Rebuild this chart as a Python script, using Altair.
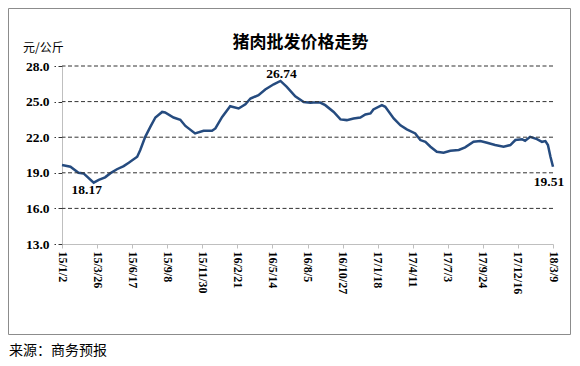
import altair as alt
import pandas as pd

title_text = "猪肉批发价格走势"
unit_text = "元/公斤"
source_text = "来源：商务预报"

dates = [
    "2015-01-02", "2015-01-22", "2015-02-10", "2015-02-22", "2015-03-18", "2015-03-30",
    "2015-04-14", "2015-04-26", "2015-05-12", "2015-05-28", "2015-06-09", "2015-06-29",
    "2015-07-06", "2015-07-18", "2015-07-30", "2015-08-11", "2015-08-27", "2015-09-03",
    "2015-09-23", "2015-10-09", "2015-10-21", "2015-11-13", "2015-12-03", "2015-12-23",
    "2015-12-31", "2016-01-16", "2016-02-04", "2016-02-24", "2016-03-11", "2016-03-23",
    "2016-04-11", "2016-04-27", "2016-05-17", "2016-06-02", "2016-06-17", "2016-07-07",
    "2016-07-27", "2016-08-12", "2016-08-19", "2016-09-04", "2016-09-16", "2016-10-06",
    "2016-10-22", "2016-11-06", "2016-11-22", "2016-12-08", "2016-12-20", "2017-01-01",
    "2017-01-08", "2017-01-28", "2017-02-05", "2017-02-25", "2017-03-13", "2017-03-28",
    "2017-04-17", "2017-04-29", "2017-05-11", "2017-05-23", "2017-06-07", "2017-06-23",
    "2017-07-09", "2017-07-29", "2017-08-13", "2017-09-02", "2017-09-18", "2017-10-04",
    "2017-10-23", "2017-11-12", "2017-11-28", "2017-12-10", "2017-12-26", "2018-01-02",
    "2018-01-14", "2018-01-30", "2018-02-11", "2018-02-19", "2018-02-25", "2018-03-03",
    "2018-03-09",
]
prices = [
    19.65, 19.51, 19.00, 18.95, 18.17, 18.40,
    18.62, 18.95, 19.30, 19.57, 19.85, 20.35,
    20.90, 22.03, 22.87, 23.66, 24.13, 24.08,
    23.66, 23.47, 22.95, 22.32, 22.54, 22.54,
    22.74, 23.71, 24.61, 24.42, 24.78, 25.26,
    25.54, 26.02, 26.46, 26.74, 26.24, 25.45,
    24.97, 24.90, 24.92, 24.92, 24.70, 24.13,
    23.50, 23.44, 23.58, 23.66, 23.92, 24.00,
    24.34, 24.70, 24.56, 23.58, 23.00, 22.66,
    22.32, 21.76, 21.60, 21.20, 20.77, 20.69,
    20.86, 20.92, 21.14, 21.61, 21.67, 21.53,
    21.34, 21.20, 21.34, 21.76, 21.82, 21.70,
    22.03, 21.84, 21.61, 21.67, 21.34, 20.35,
    19.51,
]
tick_dates = [
    "2015-01-02", "2015-03-26", "2015-06-17", "2015-09-08", "2015-11-30",
    "2016-02-21", "2016-05-14", "2016-08-05", "2016-10-27", "2017-01-18",
    "2017-04-11", "2017-07-03", "2017-09-24", "2017-12-16", "2018-03-09",
]
y_ticks = [13, 16, 19, 22, 25, 28]
grid_values = [16, 19, 22, 25, 28]
label_dates = ["2015-03-18", "2016-06-02", "2018-03-09"]
label_values = [18.17, 26.74, 19.51]


def dt(s):
    y, m, d = (int(p) for p in s.split("-"))
    return alt.DateTime(year=y, month=m, date=d)


df = pd.DataFrame({"date": pd.to_datetime(dates), "price": prices})
grid_df = pd.DataFrame({"v": grid_values})

serif = "Liberation Serif"
cjk = "Noto Sans CJK SC"
line_color = "#254B7F"

x_scale = alt.Scale(domain=[dt(tick_dates[0]), dt(tick_dates[-1])])
y_scale = alt.Scale(domain=[13, 28], nice=False, zero=False)

x_axis = alt.Axis(
    values=[dt(s) for s in tick_dates], format="%y/%-m/%-d", title=None,
    labelAngle=90, labelAlign="left", labelBaseline="middle",
    labelFont=serif, labelFontWeight="bold", labelFontSize=12, labelColor="#000000",
    labelPadding=3, labelOverlap=False, labelFlush=False, labelBound=False,
    domainColor="#BFBFBF", tickColor="#BFBFBF", tickSize=4, grid=False,
)
y_axis = alt.Axis(
    values=y_ticks, format=".1f", title=None,
    labelFont=serif, labelFontWeight="bold", labelFontSize=13.5, labelColor="#000000",
    labelPadding=5, domainColor="#BFBFBF", tickColor="#333333", tickSize=8,
    tickDash=[4, 2.5], grid=False, labelOverlap=False,
)

line = alt.Chart(df).mark_line(color=line_color, strokeWidth=2.5).encode(
    x=alt.X("date:T", scale=x_scale, axis=x_axis),
    y=alt.Y("price:Q", scale=y_scale, axis=y_axis),
)

grid = alt.Chart(grid_df).mark_rule(color="#333333", strokeWidth=1, strokeDash=[4, 2.5]).encode(
    y=alt.Y("v:Q", scale=y_scale, axis=y_axis)
)

offsets = [(-7, 7), (1, -7), (-4, 15)]
labels = []
for d, v, (ox, oy) in zip(label_dates, label_values, offsets):
    ldf = pd.DataFrame({"date": [pd.to_datetime(d)], "price": [v]})
    labels.append(
        alt.Chart(ldf).mark_text(
            font=serif, fontWeight="bold", fontSize=13.5, color="#000000",
            dx=ox, dy=oy, baseline="middle", align="center",
        ).encode(
            x=alt.X("date:T", scale=x_scale, axis=x_axis),
            y=alt.Y("price:Q", scale=y_scale, axis=y_axis),
            text=alt.Text("price:Q", format=".2f"),
        )
    )

one = alt.Data(values=[{}])
title_mark = alt.Chart(one).mark_text(
    text=title_text, font=cjk, fontWeight="bold", fontSize=17, color="#000000",
    align="center", baseline="middle",
).encode(x=alt.value(238.5), y=alt.value(-23))

unit_mark = alt.Chart(one).mark_text(
    text=unit_text, font=cjk, fontSize=12, color="#000000",
    align="left", baseline="middle",
).encode(x=alt.value(-39), y=alt.value(-18.5))

source_mark = alt.Chart(one).mark_text(
    text=source_text, font=cjk, fontSize=14, color="#000000",
    align="left", baseline="middle",
).encode(x=alt.value(-53), y=alt.value(285))

frame = alt.Chart(one).mark_rect(
    fill="transparent", stroke="#8C8C8C", strokeWidth=1
).encode(
    x=alt.value(-53.5), x2=alt.value(508.5), y=alt.value(-57.5), y2=alt.value(268.5)
)

chart = alt.layer(line, grid, *labels, title_mark, unit_mark, source_mark, frame).properties(
    width=491, height=178,
    autosize=alt.AutoSizeParams(type="none"),
    padding={"left": 54, "top": 58, "right": 18, "bottom": 114},
    background="#FFFFFF",
).configure_view(stroke="transparent")

chart.save("out.html", embed_options={"renderer": "svg", "actions": False})
